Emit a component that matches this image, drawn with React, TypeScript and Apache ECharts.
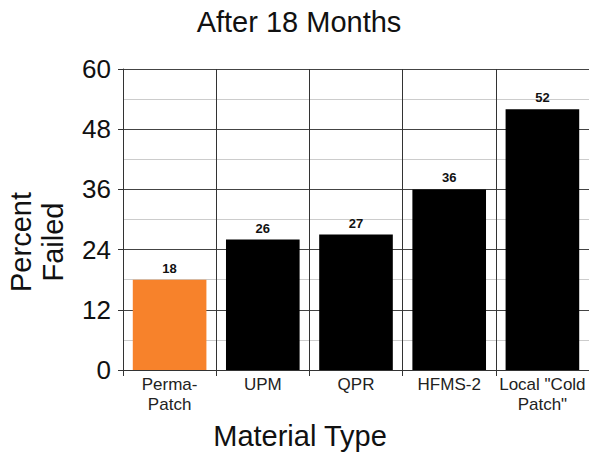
import React, { useEffect, useRef } from "react";
import * as echarts from "echarts";

const categories = ["Perma-\nPatch", "UPM", "QPR", "HFMS-2", "Local \"Cold\nPatch\""];
const values = [18, 26, 27, 36, 52];
const barColors = ["#f7822b", "#000000", "#000000", "#000000", "#000000"];
const yTicks = { min: 0, max: 60, interval: 12 };
const titleText = "After 18 Months";
const yName = "Percent\nFailed";
const xName = "Material Type";

const FONT = "'Liberation Sans', Arial, Helvetica, sans-serif";

export default function App() {
  const ref = useRef<HTMLDivElement>(null);
  useEffect(() => {
    document.body.style.margin = "0";
    const chart = echarts.init(ref.current!, null, { renderer: "svg" });
    chart.setOption({
      animation: false,
      backgroundColor: "#ffffff",
      grid: { left: 123, top: 69, bottom: 86, right: -2, containLabel: false },
      graphic: [
        {
          type: "text",
          x: 299,
          y: 22,
          style: {
            text: titleText,
            font: `29px ${FONT}`,
            fill: "#111",
            textAlign: "center",
            textVerticalAlign: "middle",
          },
        },
        {
          type: "text",
          x: 300,
          y: 436,
          style: {
            text: xName,
            font: `29px ${FONT}`,
            fill: "#111",
            textAlign: "center",
            textVerticalAlign: "middle",
          },
        },
        {
          type: "text",
          x: 37,
          y: 242,
          rotation: Math.PI / 2,
          style: {
            text: yName,
            font: `29px ${FONT}`,
            lineHeight: 32,
            fill: "#111",
            textAlign: "center",
            textVerticalAlign: "middle",
          },
        },
      ],
      xAxis: {
        type: "category",
        data: categories,
        axisLine: { show: true, lineStyle: { color: "#333", width: 1 } },
        axisTick: { show: true, length: 6, lineStyle: { color: "#333" } },
        splitLine: { show: true, lineStyle: { color: "#333", width: 1 } },
        axisLabel: {
          fontFamily: FONT,
          fontSize: 17,
          lineHeight: 20,
          color: "#222",
          margin: 4,
          interval: 0,
        },
      },
      yAxis: {
        type: "value",
        min: yTicks.min,
        max: yTicks.max,
        interval: yTicks.interval,
        axisLine: { show: true, lineStyle: { color: "#333", width: 1 } },
        axisTick: { show: true, length: 5, lineStyle: { color: "#333" } },
        splitLine: { show: true, lineStyle: { color: "#444", width: 1 } },
        minorTick: { show: false, splitNumber: 2 },
        minorSplitLine: { show: true, lineStyle: { color: "#cccccc", width: 1 } },
        axisLabel: {
          fontFamily: FONT,
          fontSize: 26,
          color: "#111",
          margin: 12,
        },
      },
      series: [
        {
          type: "bar",
          data: values.map((v, i) => ({ value: v, itemStyle: { color: barColors[i] } })),
          barWidth: "79%",
          z: 3,
          label: {
            show: true,
            position: "top",
            distance: 5,
            fontFamily: FONT,
            fontSize: 13,
            fontWeight: "bold",
            color: "#111",
          },
        },
      ],
    });
    return () => chart.dispose();
  }, []);
  return <div ref={ref} style={{ width: 589, height: 456 }} />;
}
